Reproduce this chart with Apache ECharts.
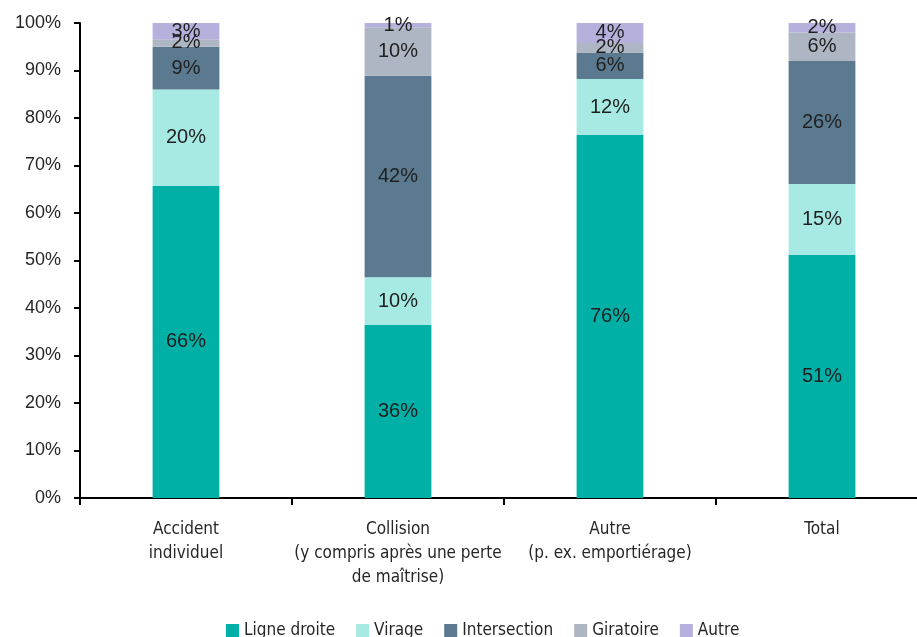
<!DOCTYPE html>
<html>
<head>
<meta charset="utf-8">
<script src="https://cdn.jsdelivr.net/npm/echarts@6/dist/echarts.min.js"></script>
<style>
  html, body { margin: 0; padding: 0; background: #ffffff; overflow: hidden; width: 917px; height: 637px; }
  /* the category axis runs a little past the right edge of the page */
  #chart { width: 928px; height: 637px; }
</style>
</head>
<body>
<div id="chart"></div>
<script>
// Accident type by road layout (share of accidents, %)
const categories = [
  'Accident\nindividuel',
  'Collision\n(y compris après une perte\nde maîtrise)',
  'Autre\n(p. ex. emportiérage)',
  'Total'
];
const ligneDroite  = [65.7, 36.4, 76.4, 51.2];
const virage       = [20.3, 10.1, 11.8, 14.9];
const intersection = [9.0, 42.4, 5.6, 25.9];
const giratoire    = [1.6, 10.2, 2.0, 6.0];
const autre        = [3.4, 0.9, 4.2, 2.0];
const yTicks = [0, 10, 20, 30, 40, 50, 60, 70, 80, 90, 100];

const seriesDefs = [
  { name: 'Ligne droite', data: ligneDroite, color: '#00AFA6' },
  { name: 'Virage', data: virage, color: '#A6EAE3' },
  { name: 'Intersection', data: intersection, color: '#5B7A8F' },
  { name: 'Giratoire', data: giratoire, color: '#AEB6C3' },
  { name: 'Autre', data: autre, color: '#B6B0DD' }
];

const narrow = "'Liberation Sans Narrow', 'DejaVu Sans Condensed', 'Liberation Sans', sans-serif";
const plain = "'Liberation Sans', Arial, sans-serif";

const chart = echarts.init(document.getElementById('chart'), null, { renderer: 'canvas' });
chart.setOption({
  animation: false,
  backgroundColor: '#ffffff',
  grid: { left: 80, top: 23, right: 0, bottom: 139, containLabel: false },
  legend: {
    left: 221,
    top: 617,
    itemWidth: 13,
    itemHeight: 13,
    itemGap: 21,
    icon: 'rect',
    textStyle: { fontFamily: narrow, fontSize: 17, color: '#262626' },
    data: seriesDefs.map(s => s.name)
  },
  xAxis: {
    type: 'category',
    data: categories,
    boundaryGap: true,
    axisLine: { show: true, lineStyle: { color: '#000000', width: 2 } },
    axisTick: { show: true, alignWithLabel: false, length: 7, lineStyle: { color: '#000000', width: 2 } },
    axisLabel: {
      margin: 20,
      fontFamily: narrow,
      fontSize: 17,
      lineHeight: 24,
      color: '#262626',
      interval: 0
    },
    splitLine: { show: false }
  },
  yAxis: {
    type: 'value',
    min: yTicks[0],
    max: yTicks[yTicks.length - 1],
    interval: 10,
    axisLine: { show: true, lineStyle: { color: '#000000', width: 2 } },
    axisTick: { show: true, length: 6, lineStyle: { color: '#000000', width: 2 } },
    axisLabel: {
      margin: 19,
      fontFamily: plain,
      fontSize: 18,
      color: '#262626',
      formatter: v => v + '%'
    },
    splitLine: { show: false }
  },
  series: seriesDefs.map(s => ({
    name: s.name,
    type: 'bar',
    stack: 'total',
    barWidth: '31.5%',
    data: s.data,
    itemStyle: { color: s.color },
    label: {
      show: true,
      position: 'inside',
      fontFamily: plain,
      fontSize: 20,
      color: '#1f1f1f',
      formatter: p => Math.round(p.value) + '%'
    },
    labelLayout: { hideOverlap: false }
  }))
});
</script>
</body>
</html>
